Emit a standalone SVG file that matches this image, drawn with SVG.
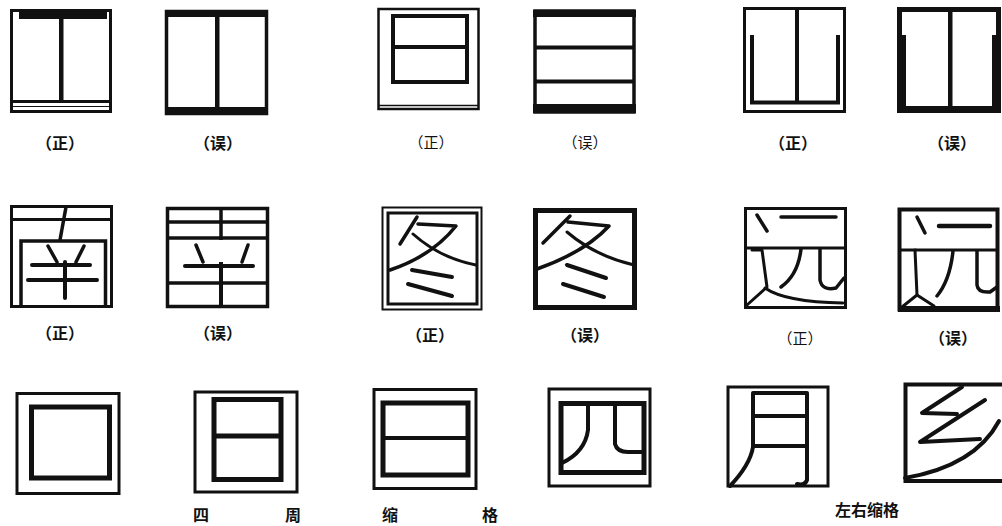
<svg xmlns="http://www.w3.org/2000/svg" width="1002" height="526" viewBox="0 0 1002 526">
<style>
.f{fill:none;stroke:#111;stroke-linejoin:miter}
.s{fill:none;stroke:#111;stroke-linecap:round;stroke-linejoin:round}
.b{fill:#111}
.t{font-family:"Noto Sans CJK SC","Noto Sans CJK JP",sans-serif;font-size:16px;font-weight:bold;fill:#111;text-anchor:middle}
.tl{font-family:"Noto Sans CJK SC","Noto Sans CJK JP",sans-serif;font-size:15px;fill:#111;text-anchor:middle}
</style>
<rect width="1002" height="526" fill="#fff"/>

<!-- Row 1 -->
<g id="gong-correct">
<rect class="f" x="11.5" y="10.5" width="99" height="101" stroke-width="3"/>
<rect class="b" x="19" y="12" width="88" height="7"/>
<rect class="b" x="59" y="18" width="4.5" height="84"/>
<line class="f" x1="12" y1="101.5" x2="110" y2="101.5" stroke-width="3"/>
<line class="f" x1="12" y1="106.5" x2="110" y2="106.5" stroke-width="1.2"/>
</g>
<g id="gong-wrong">
<rect class="f" x="166.5" y="11.5" width="100" height="102" stroke-width="3.5"/>
<rect class="b" x="165" y="10" width="103" height="7"/>
<rect class="b" x="165" y="107" width="103" height="8"/>
<rect class="b" x="215" y="15" width="4.5" height="94"/>
</g>
<g id="ri-correct">
<rect class="f" x="378.5" y="9" width="100" height="100" stroke-width="2.5"/>
<rect class="f" x="393" y="16" width="74" height="66" stroke-width="4"/>
<line class="f" x1="393" y1="47" x2="467" y2="47" stroke-width="4"/>
<line class="f" x1="379" y1="105.5" x2="478" y2="105.5" stroke-width="1.3"/>
</g>
<g id="san-wrong">
<rect class="f" x="535" y="11" width="99" height="101" stroke-width="3.5"/>
<rect class="b" x="533" y="10" width="103" height="7"/>
<line class="f" x1="535" y1="47.5" x2="634" y2="47.5" stroke-width="4"/>
<line class="f" x1="535" y1="81.5" x2="634" y2="81.5" stroke-width="4"/>
<rect class="b" x="533" y="104" width="103" height="9"/>
</g>
<g id="men-correct">
<rect class="f" x="744.5" y="8.5" width="100" height="103" stroke-width="3"/>
<rect class="b" x="795" y="9" width="4" height="94"/>
<path class="f" d="M752,35 L752,102.5 L838,102.5 L838,35" stroke-width="4"/>
</g>
<g id="men-wrong">
<rect class="f" x="899.5" y="9.5" width="99" height="101" stroke-width="5"/>
<rect class="b" x="897" y="35" width="9" height="78"/>
<rect class="b" x="992" y="35" width="9" height="78"/>
<rect class="b" x="897" y="106" width="104" height="7"/>
<rect class="b" x="948" y="9" width="4.5" height="100"/>
</g>

<!-- Row 2 -->
<g id="nan-correct">
<rect class="f" x="11.5" y="206.5" width="100" height="100" stroke-width="3"/>
<line class="f" x1="11" y1="219.5" x2="112" y2="219.5" stroke-width="3"/>
<line class="s" x1="66" y1="207" x2="60" y2="240" stroke-width="3.5"/>
<path class="f" d="M21,307 L21,241 L105.5,241 L105.5,307" stroke-width="3.5"/>
<line class="s" x1="48" y1="246" x2="57" y2="262" stroke-width="3.5"/>
<line class="s" x1="84" y1="246" x2="76" y2="262" stroke-width="3.5"/>
<line class="s" x1="32" y1="265" x2="90" y2="265" stroke-width="4"/>
<line class="s" x1="28" y1="280" x2="97" y2="280" stroke-width="4"/>
<line class="s" x1="65" y1="262" x2="65" y2="298" stroke-width="4"/>
</g>
<g id="nan-wrong">
<rect class="f" x="167.5" y="208.5" width="100" height="98" stroke-width="3.5"/>
<line class="f" x1="167" y1="222" x2="268" y2="222" stroke-width="3.5"/>
<line class="f" x1="167" y1="238" x2="268" y2="238" stroke-width="3.5"/>
<line class="f" x1="221" y1="208" x2="221" y2="240" stroke-width="3.5"/>
<line class="s" x1="196" y1="245" x2="203" y2="262" stroke-width="3.5"/>
<line class="s" x1="248" y1="245" x2="242" y2="262" stroke-width="3.5"/>
<line class="s" x1="185" y1="266" x2="253" y2="266" stroke-width="4"/>
<line class="f" x1="167" y1="283" x2="268" y2="283" stroke-width="3.5"/>
<line class="f" x1="221" y1="262" x2="221" y2="307" stroke-width="4"/>
</g>
<g id="dong-correct">
<rect class="f" x="382.5" y="207.5" width="99" height="102" stroke-width="2"/>
<rect class="f" x="388" y="213" width="89" height="91" stroke-width="3"/>
<path class="s" d="M417,217 L400,244" stroke-width="3.5"/>
<path class="s" d="M418,224 L456,226 Q432,256 390,270" stroke-width="3.5"/>
<path class="s" d="M413,234 Q440,258 476,265" stroke-width="3"/>
<path class="s" d="M412,270 L452,277" stroke-width="4"/>
<path class="s" d="M408,284 L452,296" stroke-width="4"/>
</g>
<g id="dong-wrong">
<rect class="f" x="535.5" y="210.5" width="99" height="97" stroke-width="5"/>
<path class="s" d="M570,216 L543,243" stroke-width="3.5"/>
<path class="s" d="M568,222 L609,226 Q585,252 537,269" stroke-width="3.5"/>
<path class="s" d="M567,232 Q595,256 634,265" stroke-width="3"/>
<path class="s" d="M567,265 L606,278" stroke-width="4"/>
<path class="s" d="M563,284 L604,297" stroke-width="4"/>
</g>
<g id="yuan-correct">
<rect class="f" x="745.5" y="208.5" width="100" height="99" stroke-width="3"/>
<path class="s" d="M757,215 L767,231" stroke-width="3.5"/>
<path class="s" d="M781,217 L836,217" stroke-width="3.5"/>
<line class="f" x1="745" y1="248" x2="847" y2="248" stroke-width="3"/>
<path class="s" d="M752,250 L762,250 L767,287 L747,305" stroke-width="3"/>
<path class="s" d="M765,288 Q785,302 843,303" stroke-width="3"/>
<path class="s" d="M801,249 Q798,275 781,287" stroke-width="3.5"/>
<path class="s" d="M820,249 L820,280 Q822,291 836,288 L844,278" stroke-width="3.5"/>
</g>
<g id="yuan-wrong">
<rect class="f" x="899.5" y="209.5" width="98" height="100" stroke-width="4"/>
<rect class="b" x="898" y="306" width="102" height="6"/>
<path class="s" d="M917,217 L925,233" stroke-width="3.5"/>
<path class="s" d="M939,226 L990,226" stroke-width="4.5"/>
<line class="f" x1="898" y1="250" x2="998" y2="250" stroke-width="3"/>
<path class="s" d="M915,250 L917,295 L902,307" stroke-width="3"/>
<path class="s" d="M917,295 L934,306" stroke-width="3"/>
<path class="s" d="M953,251 Q950,280 937,296" stroke-width="3.5"/>
<path class="s" d="M977,251 L977,285 Q978,293 990,292 L997,287" stroke-width="3.5"/>
</g>

<!-- Row 3 -->
<g id="kou">
<rect class="f" x="17" y="393.5" width="102" height="100" stroke-width="3"/>
<rect class="f" x="31.5" y="407" width="78" height="71" stroke-width="5"/>
</g>
<g id="ri-vertical">
<rect class="f" x="195" y="392" width="102" height="100" stroke-width="3"/>
<rect class="f" x="214" y="399.5" width="67" height="80" stroke-width="5"/>
<line class="f" x1="214" y1="436" x2="281" y2="436" stroke-width="5"/>
</g>
<g id="ri-horizontal">
<rect class="f" x="374" y="389.5" width="102" height="99" stroke-width="3"/>
<rect class="f" x="383" y="403" width="85" height="72" stroke-width="5"/>
<line class="f" x1="383" y1="438" x2="468" y2="438" stroke-width="4"/>
</g>
<g id="si">
<rect class="f" x="549" y="389" width="101" height="97" stroke-width="3"/>
<rect class="f" x="561" y="403.5" width="83" height="69" stroke-width="5"/>
<path class="s" d="M588,404 L588,430 Q585,452 562,463" stroke-width="4"/>
<path class="s" d="M615,404 L615,444 Q617,452 628,452 L643,452" stroke-width="4"/>
</g>
<g id="yue">
<rect class="f" x="728" y="387" width="100" height="99" stroke-width="3"/>
<path class="s" d="M730,486 Q750,465 753,447 L753,393 L807,393 L807,480 Q805,486 797,484" stroke-width="4"/>
<line class="f" x1="753" y1="416" x2="807" y2="416" stroke-width="4"/>
<line class="f" x1="753" y1="446" x2="807" y2="446" stroke-width="4"/>
</g>
<g id="xiang">
<path class="f" d="M1002,384.5 L905.5,384.5 L905.5,481 L1002,481" stroke-width="4"/>
<path class="s" d="M962,387 L922,413 L957,414" stroke-width="4"/>
<path class="s" d="M985,400 L920,442 L980,439" stroke-width="4"/>
<path class="s" d="M999,421 Q975,466 905,478" stroke-width="4"/>
</g>

<!-- Labels -->
<g id="labels">
<text class="t" x="60" y="149">（正）</text>
<text class="t" x="218" y="149">（误）</text>
<text class="tl" x="431" y="148">（正）</text>
<text class="tl" x="585" y="148">（误）</text>
<text class="t" x="793" y="149">（正）</text>
<text class="t" x="952" y="149">（误）</text>
<text class="t" x="60" y="339">（正）</text>
<text class="t" x="218" y="339">（误）</text>
<text class="t" x="430" y="341">（正）</text>
<text class="t" x="585" y="341">（误）</text>
<text class="tl" x="800" y="344">（正）</text>
<text class="t" x="953" y="344">（误）</text>
<text class="t" x="201" y="521">四</text>
<text class="t" x="293" y="521">周</text>
<text class="t" x="390" y="521">缩</text>
<text class="t" x="490" y="521">格</text>
<text class="t" x="867" y="516">左右缩格</text>
</g>
</svg>
